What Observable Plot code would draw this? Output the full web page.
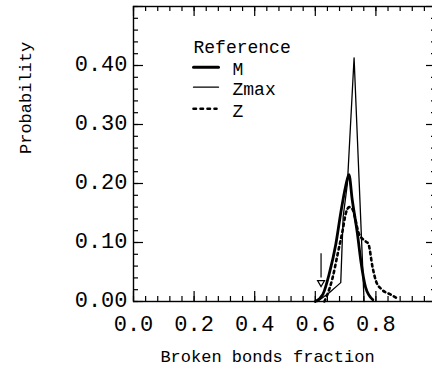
<!DOCTYPE html>
<html><head><meta charset="utf-8">
<script src="https://cdn.jsdelivr.net/npm/d3@7"></script>
<script src="https://cdn.jsdelivr.net/npm/@observablehq/plot@0.6"></script>
<style>
html,body{margin:0;padding:0;background:#fff;overflow:hidden;}
#chart{width:432px;height:372px;overflow:hidden;position:relative;}
#chart svg{max-width:none !important;}
</style></head><body><div id="chart"></div>
<script>
// ---- data ----
const mX    = [0.600, 0.625, 0.646, 0.668, 0.684, 0.700, 0.711, 0.722, 0.739, 0.750, 0.766, 0.790];
const mY    = [0.000, 0.012, 0.047, 0.098, 0.150, 0.195, 0.215, 0.172, 0.115, 0.070, 0.024, 0.003];
const zmaxX = [0.607, 0.646, 0.684, 0.692, 0.706, 0.728, 0.745, 0.761];
const zmaxY = [0.000, 0.015, 0.032, 0.144, 0.200, 0.413, 0.200, 0.000];
const zX    = [0.630, 0.640, 0.657, 0.674, 0.690, 0.701, 0.712, 0.722, 0.744, 0.766, 0.775, 0.789, 0.800, 0.820, 0.848, 0.875];
const zY    = [0.000, 0.012, 0.040, 0.081, 0.120, 0.150, 0.160, 0.157, 0.115, 0.102, 0.098, 0.058, 0.035, 0.020, 0.012, 0.004];
const arrowX = [0.619];
const arrowTop = 0.081, arrowLineEnd = 0.040, arrowHead = 0.032;
const xTickValues = [0.0, 0.2, 0.4, 0.6, 0.8];
const yTickValues = [0.00, 0.10, 0.20, 0.30, 0.40];
const seriesNames = ["M", "Zmax", "Z"];
const legendTitle = "Reference";
const xTitle = "Broken bonds fraction";
const yTitle = "Probability";

const toRows = (xs, ys) => xs.map((x, i) => ({x, y: ys[i]}));
const mRows = toRows(mX, mY), zmaxRows = toRows(zmaxX, zmaxY), zRows = toRows(zX, zY);

const xMinor = d3.range(0, 25.5).map(i => i * 0.04);
const xMajor = d3.range(0, 5.5).map(i => i * 0.2);
const yMinor = d3.range(0, 25.5).map(i => i * 0.02);
const yMajor = d3.range(0, 5.5).map(i => i * 0.1);

const W = 440, H = 372, ML = 133, MR = 4, MT = 6, MB = 71;
const IW = W - ML - MR, IH = H - MT - MB;
const FONT = "'Liberation Mono', 'Courier New', monospace";
const TK = {stroke: "#000", strokeWidth: 1.2};

// legend sample line shape (plain segment)
const segment = {draw(context, l) { context.moveTo(0, 0); context.lineTo(0, -l); }};
const sampleStyle = [
  {strokeWidth: 3, length: 25, dy: 60.7},
  {strokeWidth: 1.3, length: 25, dy: 80.7},
  {strokeWidth: 2.6, length: 23, dy: 102.3, strokeDasharray: "2.5 4.5"}
];

const chart = Plot.plot({
  width: W, height: H,
  marginLeft: ML, marginRight: MR, marginTop: MT, marginBottom: MB,
  x: {domain: [0, 1]},
  y: {domain: [0, 0.5]},
  style: {fontFamily: FONT, color: "#000", background: "#fff", maxWidth: "none"},
  marks: [
    Plot.frame({stroke: "#000", strokeWidth: 1.4}),
    // inward ticks on all four sides
    Plot.tickX(xMinor, {x: d => d, insetTop: IH - 5, ...TK}),
    Plot.tickX(xMajor, {x: d => d, insetTop: IH - 10, ...TK}),
    Plot.tickX(xMinor, {x: d => d, insetBottom: IH - 5, ...TK}),
    Plot.tickX(xMajor, {x: d => d, insetBottom: IH - 10, ...TK}),
    Plot.tickY(yMinor, {y: d => d, insetRight: IW - 5, ...TK}),
    Plot.tickY(yMajor, {y: d => d, insetRight: IW - 10, ...TK}),
    Plot.tickY(yMinor, {y: d => d, insetLeft: IW - 5, ...TK}),
    Plot.tickY(yMajor, {y: d => d, insetLeft: IW - 10, ...TK}),
    Plot.axisX(xTickValues, {anchor: "bottom", tickSize: 0, tickPadding: 14, tickFormat: d3.format(".1f"), label: null, fontSize: 22}),
    Plot.axisY(yTickValues, {anchor: "left", tickSize: 0, tickPadding: 6, tickFormat: d3.format(".2f"), label: null, fontSize: 22, dy: -2}),
    Plot.text([yTitle], {frameAnchor: "left", rotate: -90, dx: -108, fontSize: 17}),
    Plot.text([xTitle], {frameAnchor: "bottom", dy: 60, dx: -17.5, fontSize: 17}),
    // legend (inside the frame, top-left)
    Plot.text([legendTitle], {frameAnchor: "top-left", textAnchor: "start", dx: 60, dy: 34, fontSize: 18}),
    ...seriesNames.map((name, i) => Plot.text([name], {frameAnchor: "top-left", textAnchor: "start", dx: 99, dy: [55.7, 75.7, 97.3][i], fontSize: 18})),
    ...sampleStyle.map(s => Plot.vector([0], {frameAnchor: "top-left", dx: 60, dy: s.dy, rotate: 90, length: s.length, anchor: "start", shape: segment, stroke: "#000", strokeWidth: s.strokeWidth, strokeDasharray: s.strokeDasharray})),
    // curves
    Plot.line(zmaxRows, {x: "x", y: "y", stroke: "#000", strokeWidth: 1.3}),
    Plot.line(mRows, {x: "x", y: "y", stroke: "#000", strokeWidth: 2.8, curve: "monotone-x"}),
    Plot.line(zRows, {x: "x", y: "y", stroke: "#000", strokeWidth: 2.6, strokeDasharray: "2.5 3.5", curve: "monotone-x"}),
    Plot.ruleX(arrowX, {x: d => d, y1: arrowTop, y2: arrowLineEnd, stroke: "#000", strokeWidth: 1.2}),
    Plot.dot(arrowX, {x: d => d, y: arrowHead, symbol: "triangle", rotate: 180, r: 2.6, stroke: "#000", fill: "#fff", strokeWidth: 1.2})
  ]
});

document.getElementById("chart").append(chart);
</script>
</body></html>
